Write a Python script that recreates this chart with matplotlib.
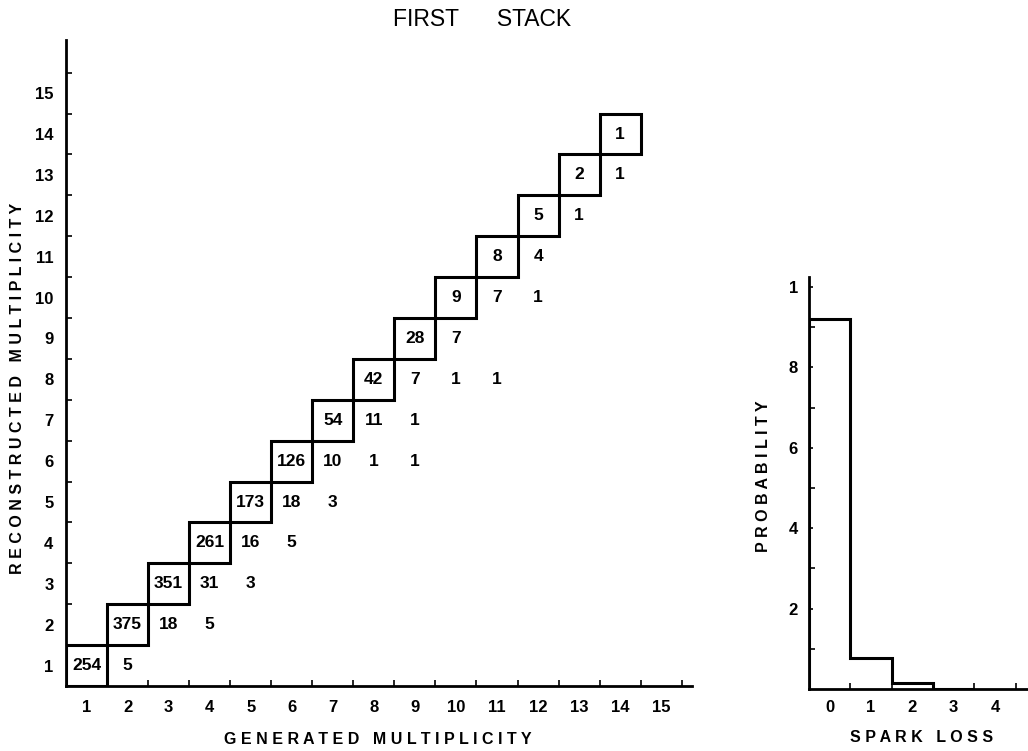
import matplotlib.pyplot as plt
import numpy as np
from matplotlib.patches import Rectangle
from matplotlib.ticker import FixedLocator, FixedFormatter

plt.rcParams['font.family'] = ['Liberation Sans', 'DejaVu Sans']

# diagonal: events reconstructed with the generated multiplicity
diag_mult = list(range(1, 15))
diag_counts = [254, 375, 351, 261, 173, 126, 54, 42, 28, 9, 8, 5, 2, 1]

# off-diagonal cells (generated, reconstructed, count)
off_gen = [2, 3, 4, 4, 5, 5, 6, 6, 7, 7, 8, 9, 8, 9, 9, 10, 11, 10, 11, 12, 12, 13, 14]
off_rec = [1, 2, 2, 3, 3, 4, 4, 5, 5, 6, 6, 6, 7, 7, 8, 8, 8, 9, 10, 10, 11, 12, 13]
off_cnt = [5, 18, 5, 31, 3, 16, 5, 18, 3, 10, 1, 1, 11, 1, 7, 1, 1, 7, 7, 1, 4, 1, 1]

# spark loss distribution
loss = [0, 1, 2, 3]
loss_prob = [0.92, 0.076, 0.016, 0.0]

fig = plt.figure(figsize=(10.28, 7.51), dpi=100)
W, H = 1028, 751


def px_axes(left, top, right, bottom):
    return fig.add_axes([left / W, 1 - bottom / H, (right - left) / W, (bottom - top) / H])


ax = px_axes(66, 40, 692, 686)
ax.set_xlim(0.5, 15.75)
ax.set_ylim(0.5, 16.3)

for m, c in zip(diag_mult, diag_counts):
    ax.add_patch(Rectangle((m - 0.5, m - 0.5), 1, 1, fill=False, lw=2.2, ec='black'))
    ax.text(m, m, str(c), ha='center', va='center', fontsize=12.5, fontweight='bold')
for g, r, c in zip(off_gen, off_rec, off_cnt):
    ax.text(g, r, str(c), ha='center', va='center', fontsize=12.5, fontweight='bold')

ticks = np.arange(1, 16)
ax.set_xticks(ticks)
ax.set_yticks(ticks)
ax.set_xticks(np.arange(1.5, 16, 1), minor=True)
ax.set_yticks(np.arange(1.5, 16, 1), minor=True)
ax.tick_params(which='major', length=0, labelsize=12, pad=10)
ax.tick_params(axis='y', which='major', pad=9)
ax.tick_params(which='minor', direction='in', length=4, width=1.2)
for lab in ax.get_xticklabels() + ax.get_yticklabels():
    lab.set_fontweight('bold')
for side in ('top', 'right'):
    ax.spines[side].set_visible(False)
for side in ('left', 'bottom'):
    ax.spines[side].set_linewidth(2)

fig.text(482 / W, 1 - 20 / H, 'FIRST      STACK', ha='center', va='center', fontsize=16.5)
fig.text(378 / W, 1 - 740 / H, 'G E N E R A T E D   M U L T I P L I C I T Y',
         ha='center', va='center', fontsize=11.5, fontweight='bold')
fig.text(18 / W, 1 - 388 / H, 'R E C O N S T R U C T E D   M U L T I P L I C I T Y',
         ha='center', va='center', rotation=90, fontsize=11.5, fontweight='bold')

# spark loss histogram
ax2 = px_axes(809, 277, 1028, 689)
ax2.set_xlim(-0.5, 4.8)
ax2.set_ylim(0, 1.025)
edges = np.append(np.array(loss) - 0.5, loss[-1] + 0.5)
ax2.stairs(loss_prob, edges, baseline=0, color='black', lw=2.2)

ax2.xaxis.set_major_locator(FixedLocator([0, 1, 2, 3, 4]))
ax2.xaxis.set_minor_locator(FixedLocator([0.5, 1.5, 2.5, 3.5, 4.5]))
ax2.yaxis.set_major_locator(FixedLocator([0.2, 0.4, 0.6, 0.8, 1.0]))
ax2.yaxis.set_major_formatter(FixedFormatter(['2', '4', '6', '8', '1']))
ax2.yaxis.set_minor_locator(FixedLocator([0.1, 0.3, 0.5, 0.7, 0.9]))
ax2.tick_params(which='major', length=0, labelsize=12, pad=8)
ax2.tick_params(axis='y', which='major', direction='in', length=3, width=1.2)
ax2.tick_params(which='minor', direction='in', length=4, width=1.2)
for lab in ax2.get_xticklabels() + ax2.get_yticklabels():
    lab.set_fontweight('bold')
for side in ('top', 'right'):
    ax2.spines[side].set_visible(False)
for side in ('left', 'bottom'):
    ax2.spines[side].set_linewidth(2)

fig.text(922 / W, 1 - 737 / H, 'S P A R K   L O S S', ha='center', va='center',
         fontsize=11.5, fontweight='bold')
fig.text(763 / W, 1 - 476 / H, 'P R O B A B I L I T Y', ha='center', va='center',
         rotation=90, fontsize=11.5, fontweight='bold')

fig.savefig('out.png', dpi=100)
